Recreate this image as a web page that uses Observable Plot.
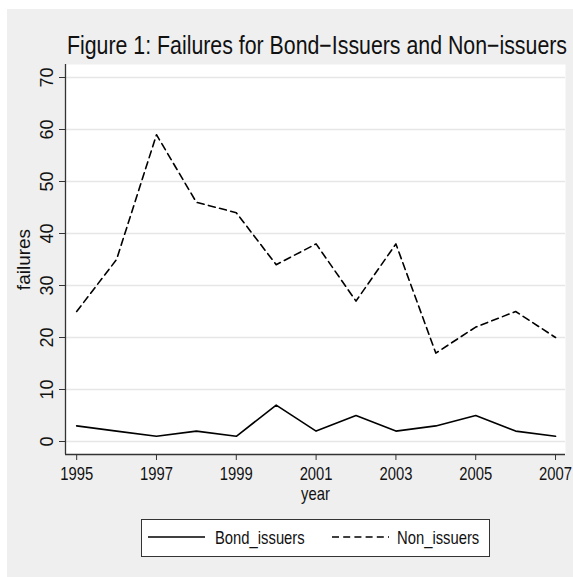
<!DOCTYPE html>
<html>
<head>
<meta charset="utf-8">
<script src="https://cdn.jsdelivr.net/npm/d3@7"></script>
<script src="https://cdn.jsdelivr.net/npm/@observablehq/plot@0.6"></script>
<style>
  body { margin: 0; background: #ffffff; font-family: "Liberation Sans", Arial, sans-serif; }
  #page { position: relative; width: 573px; height: 577px; overflow: hidden; }
  #bg { position: absolute; left: 7px; top: 9px; width: 566px; height: 568px; background: #efefef; }
  #title { position: absolute; left: 65px; width: 500px; top: 29.6px; height: 30px; font-size: 25.5px; line-height: 30px; color: #111; white-space: nowrap; }
  #title span { display: inline-block; transform-origin: 0 0; }
  #chart { position: absolute; left: 0; top: 55px; }
  #legend { position: absolute; left: 141px; top: 518.5px; width: 347px; height: 36px; background: #fff; border: 1px solid #333; font-size: 18.5px; color: #111; }
  #legend .sw { position: absolute; top: 13.5px; }
  #legend .lab { position: absolute; top: 7px; line-height: 22px; white-space: nowrap; transform: scaleX(0.8); transform-origin: 0 0; }
</style>
</head>
<body>
<div id="page">
  <div id="bg"></div>
  <div id="title"><span>Figure 1: Failures for Bond−Issuers and Non−issuers</span></div>
  <div id="chart"></div>
  <div id="legend"></div>
</div>
<script>
const years = [1995, 1996, 1997, 1998, 1999, 2000, 2001, 2002, 2003, 2004, 2005, 2006, 2007];
const bondIssuers = [3, 2, 1, 2, 1, 7, 2, 5, 2, 3, 5, 2, 1];
const nonIssuers = [25, 35, 59, 46, 44, 34, 38, 27, 38, 17, 22, 25, 20];
const seriesNames = ["Bond_issuers", "Non_issuers"];
const xTicks = [1995, 1997, 1999, 2001, 2003, 2005, 2007];
const yTicks = [0, 10, 20, 30, 40, 50, 60, 70];
const xDomain = [1994.72, 2007.25];
const yDomain = [-2.5, 72.5];

const rows = [];
years.forEach((yr, i) => {
  rows.push({year: yr, failures: bondIssuers[i], series: seriesNames[0]});
  rows.push({year: yr, failures: nonIssuers[i], series: seriesNames[1]});
});
const bond = rows.filter(d => d.series === seriesNames[0]);
const non = rows.filter(d => d.series === seriesNames[1]);

const axisColor = "#333";
const narrow = 0.8;
const chart = Plot.plot({
  width: 573,
  height: 460,
  marginLeft: 65,
  marginRight: 8,
  marginTop: 9,
  marginBottom: 61,
  style: {
    background: "transparent",
    fontFamily: '"Liberation Sans", Arial, sans-serif',
    fontSize: "18.5px",
    color: "#111",
    overflow: "visible"
  },
  x: {domain: xDomain, label: null},
  y: {domain: yDomain, label: null},
  marks: [
    Plot.frame({fill: "white", stroke: null}),
    Plot.gridY(yTicks, {stroke: "#e6e6e6", strokeOpacity: 1, strokeWidth: 1.5}),
    Plot.lineY(bond, {x: "year", y: "failures", stroke: "#000", strokeWidth: 1.6}),
    Plot.lineY(non, {x: "year", y: "failures", stroke: "#000", strokeWidth: 1.6, strokeDasharray: "7,4.5"}),
    Plot.ruleX([xDomain[0]], {stroke: axisColor, strokeWidth: 1.3}),
    Plot.ruleY([yDomain[0]], {stroke: axisColor, strokeWidth: 1.3}),
    Plot.axisY(yTicks, {tickSize: 6, tickRotate: -90, tickPadding: 7, fontSize: 18, stroke: axisColor, label: null}),
    Plot.axisX(xTicks, {tickSize: 6, tickPadding: 6.5, tickFormat: d => String(d), stroke: axisColor, label: null}),
    Plot.text(["failures"], {frameAnchor: "left", rotate: -90, dx: -42, textAnchor: "middle", lineAnchor: "middle", fontSize: 19, fill: "#111"}),
    Plot.text(["year"], {frameAnchor: "bottom", dy: 45, fill: "#111"})
  ]
});
document.getElementById("chart").appendChild(chart);

// narrow the horizontal text glyphs (condensed look, as in the reference)
d3.select(chart).selectAll("text").each(function() {
  const t = this.getAttribute("transform");
  if (t && !/rotate/.test(t)) this.setAttribute("transform", `${t} scale(${narrow},1)`);
});

// title: condense to the width of the plot region
const tspan = document.querySelector("#title span");
const natural = tspan.getBoundingClientRect().width;
const target = 500;
tspan.style.transform = `scaleX(${target / natural})`;
tspan.style.marginLeft = "2px";

// legend
const legend = d3.select("#legend");
const dashes = [null, "7,4.2"];
const swatchLeft = [6, 190];
const labelLeft = [73, 255];
seriesNames.forEach((name, i) => {
  const s = legend.append("svg").attr("class", "sw")
    .style("left", swatchLeft[i] + "px")
    .attr("width", 57).attr("height", 8);
  s.append("line").attr("x1", 0).attr("x2", 57).attr("y1", 4).attr("y2", 4)
    .attr("stroke", "#000").attr("stroke-width", 1.6)
    .attr("stroke-dasharray", dashes[i]);
  legend.append("div").attr("class", "lab")
    .style("left", labelLeft[i] + "px").text(name);
});
</script>
</body>
</html>
